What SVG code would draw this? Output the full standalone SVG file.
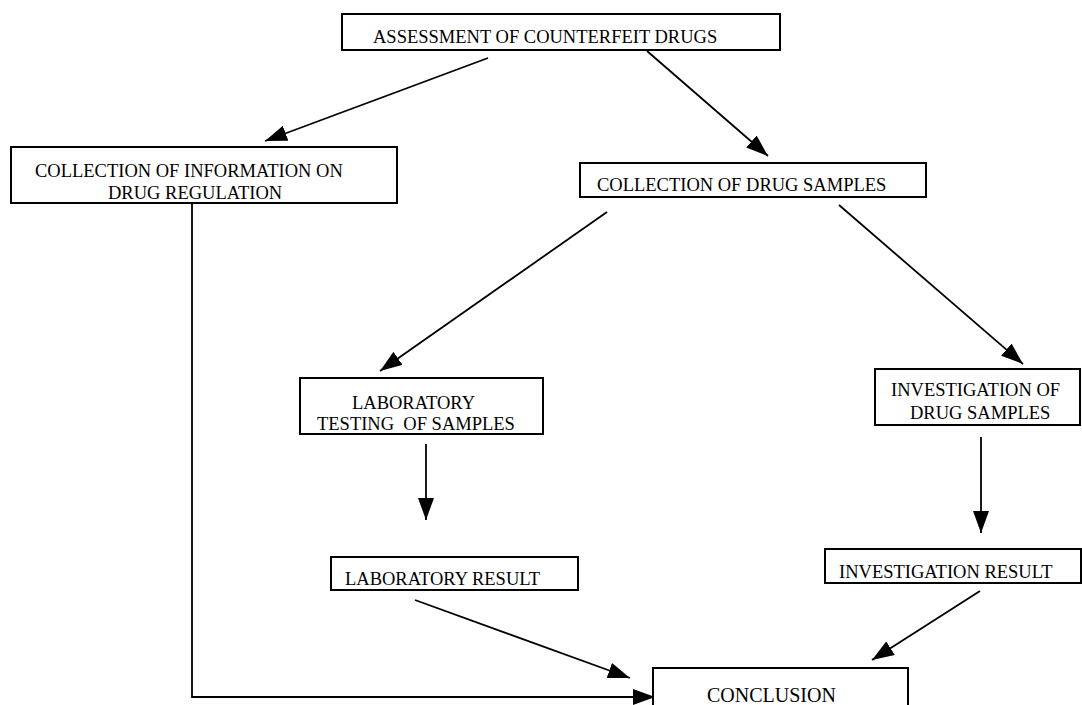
<svg xmlns="http://www.w3.org/2000/svg" width="1082" height="705" viewBox="0 0 1082 705">
<style>
.box{fill:#fff;stroke:#000;stroke-width:2}
.t{font-family:"Liberation Serif","Times New Roman",serif;font-size:18.5px;fill:#000}
.big{font-size:20px}
.c{fill:none;stroke:#000;stroke-width:1.8}
</style>
<defs>
<marker id="ah" viewBox="0 0 22 16" refX="22" refY="8" markerWidth="22" markerHeight="16" markerUnits="userSpaceOnUse" orient="auto">
<path d="M0,0 L22,8 L0,16 Z" fill="#000"/>
</marker>
</defs>
<rect width="1082" height="705" fill="#fff"/>
<g id="connectors">
<line class="c" x1="488" y1="58" x2="265" y2="141" marker-end="url(#ah)"/>
<line class="c" x1="647" y1="51" x2="768" y2="156" marker-end="url(#ah)"/>
<line class="c" x1="607" y1="212" x2="380" y2="371" marker-end="url(#ah)"/>
<line class="c" x1="839" y1="205" x2="1023" y2="364" marker-end="url(#ah)"/>
<line class="c" x1="426" y1="444" x2="426" y2="520" marker-end="url(#ah)"/>
<line class="c" x1="981" y1="437" x2="981" y2="533" marker-end="url(#ah)"/>
<line class="c" x1="415" y1="600" x2="630" y2="678" marker-end="url(#ah)"/>
<line class="c" x1="980" y1="591" x2="872" y2="660" marker-end="url(#ah)"/>
<polyline class="c" points="192,203 192,697 655,697" marker-end="url(#ah)"/>
</g>
<g id="n-assessment">
<rect class="box" x="342" y="14" width="438" height="36"/>
<text class="t" x="373" y="43">ASSESSMENT OF COUNTERFEIT DRUGS</text>
</g>
<g id="n-info">
<rect class="box" x="11" y="147" width="386" height="56"/>
<text class="t" x="35" y="177">COLLECTION OF INFORMATION ON</text>
<text class="t" x="108" y="199">DRUG REGULATION</text>
</g>
<g id="n-samples">
<rect class="box" x="580" y="163" width="346" height="34"/>
<text class="t" x="597" y="191">COLLECTION OF DRUG SAMPLES</text>
</g>
<g id="n-labtest">
<rect class="box" x="300" y="378" width="243" height="56"/>
<text class="t" x="352" y="409">LABORATORY</text>
<text class="t" x="317" y="430" xml:space="preserve">TESTING  OF SAMPLES</text>
</g>
<g id="n-invest">
<rect class="box" x="875" y="369" width="205" height="56"/>
<text class="t" x="891" y="396">INVESTIGATION OF</text>
<text class="t" x="910" y="419">DRUG SAMPLES</text>
</g>
<g id="n-labresult">
<rect class="box" x="331" y="557" width="247" height="33"/>
<text class="t" x="345" y="585">LABORATORY RESULT</text>
</g>
<g id="n-invresult">
<rect class="box" x="825" y="549" width="256" height="34"/>
<text class="t" x="839" y="578">INVESTIGATION RESULT</text>
</g>
<g id="n-conclusion">
<rect class="box" x="653" y="668" width="255" height="50"/>
<text class="t big" x="707" y="702">CONCLUSION</text>
</g>
</svg>
